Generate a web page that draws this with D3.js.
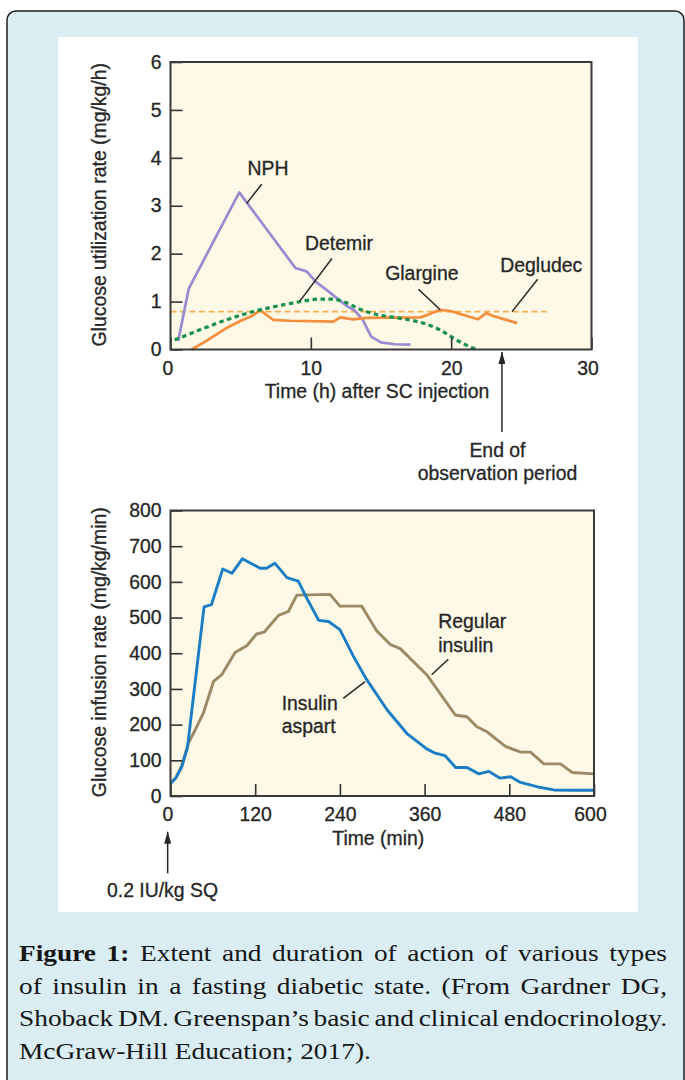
<!DOCTYPE html>
<html>
<head>
<meta charset="utf-8">
<script src="https://cdn.jsdelivr.net/npm/d3@7"></script>
<style>
  body { margin: 0; background: #fff; }
  svg { display: block; }
  text { font-family: "Liberation Sans", Arial, sans-serif; fill: #262626; }
  .chart-text text { stroke: #262626; stroke-width: 0.3px; }
</style>
</head>
<body>
<div id="chart"></div>
<script>
const width = 685;
const height = 1080;
const fontSize = 19.4;

// top panel: basal insulins, glucose utilization rate (mg/kg/h) vs hours
const hourTicks = [0, 10, 20, 30];
const utilTicks = [0, 1, 2, 3, 4, 5, 6];
const nphHours = [0.55, 1.3, 4.9, 8.9, 9.7, 10.4, 11, 12.6, 13.1, 13.7, 14.3, 15, 16, 17.1];
const nphRate = [0.18, 1.27, 3.28, 1.7, 1.63, 1.4, 1.27, 0.9, 0.82, 0.62, 0.27, 0.15, 0.11, 0.1];
const detemirHours = [0.3, 2, 4, 6, 8, 9.5, 10.5, 11.5, 12.5, 13.5, 14.7, 16.4, 18, 19.2, 20.2, 21.1, 21.8];
const detemirRate = [0.2, 0.4, 0.62, 0.8, 0.93, 1.01, 1.05, 1.05, 0.98, 0.84, 0.73, 0.65, 0.55, 0.41, 0.23, 0.09, 0];
const glargineHours = [1.5, 2.5, 3.2, 4, 5, 5.8, 6.4, 7.3, 8.5, 11.6, 12.1, 13, 14, 17.8, 18.3, 19.2, 20, 21.9, 22.5, 23, 24.7];
const glargineRate = [0, 0.17, 0.3, 0.45, 0.6, 0.7, 0.82, 0.62, 0.6, 0.58, 0.67, 0.63, 0.66, 0.67, 0.72, 0.83, 0.8, 0.63, 0.76, 0.7, 0.55];
const degludecHours = [0, 26.8];
const degludecRate = [0.79, 0.79];

// bottom panel: prandial insulins, glucose infusion rate (mg/kg/min) vs minutes
const minuteTicks = [0, 120, 240, 360, 480, 600];
const infusionTicks = [0, 100, 200, 300, 400, 500, 600, 700, 800];
const aspartMinutes = [0, 8, 16, 24, 30, 40, 47.5, 58, 74, 87, 102, 127, 136, 148, 165, 181, 195, 210, 224, 240, 259, 278, 307, 335, 363, 375, 389, 404, 420, 437, 451, 467, 482, 496, 519, 543, 570, 600];
const aspartRate = [35, 52, 82, 135, 236, 404, 530, 536, 636, 624, 665, 638, 638, 652, 612, 602, 547, 492, 489, 466, 392, 326, 241, 175, 132, 120, 113, 80, 80, 62, 69, 50, 54, 38, 26, 17, 16, 16];
const regularMinutes = [0, 8, 16, 25, 35, 46.5, 61, 72.6, 91.5, 108, 122, 132.6, 153, 167, 179, 226, 240, 271, 292, 311, 325.5, 363, 403.5, 420, 434, 448.5, 474.5, 496, 510, 529, 552.5, 569, 600];
const regularRate = [35, 52, 85, 147, 185, 232, 321, 340, 402, 421, 454, 459, 506, 517, 563, 565, 532, 532, 463, 425, 413, 340, 227, 222, 194, 180, 139, 123, 123, 90, 90, 66, 62];

const captionLines = [
  "Figure 1: Extent and duration of action of various types",
  "of insulin in a fasting diabetic state. (From Gardner DG,",
  "Shoback DM. Greenspan\u2019s basic and clinical endocrinology.",
  "McGraw-Hill Education; 2017)."
];

const svg = d3.select("#chart").append("svg")
  .attr("width", width)
  .attr("height", height);

svg.append("defs").append("marker")
  .attr("id", "arrow")
  .attr("viewBox", "0 0 12 7")
  .attr("refX", 12).attr("refY", 3.5)
  .attr("markerWidth", 12).attr("markerHeight", 7)
  .attr("markerUnits", "userSpaceOnUse")
  .attr("orient", "auto")
  .append("path")
  .attr("d", "M0,0L12,3.5L0,7Z")
  .attr("fill", "#262626");

// figure box and white plate
svg.append("rect")
  .attr("x", 7).attr("y", 11)
  .attr("width", 677).attr("height", 1100)
  .attr("rx", 9)
  .attr("fill", "#d9edf3")
  .attr("stroke", "#1e1e1e")
  .attr("stroke-width", 1.5);
svg.append("rect")
  .attr("x", 58).attr("y", 37)
  .attr("width", 580).attr("height", 875)
  .attr("fill", "#fff");

const topX = d3.scaleLinear([0, 30], [170.5, 591.5]);
const topY = d3.scaleLinear([0, 6], [349.5, 62]);
const botX = d3.scaleLinear([0, 600], [170.5, 594]);
const botY = d3.scaleLinear([0, 800], [796, 510.5]);

const panel = (x, y, xTicks, yTicks, xTitle, yTitle, series) => {
  let g = svg.append("g").attr("class", "chart-text");
  let [x0, x1] = x.range();
  let [y0, y1] = y.range();
  g.append("rect")
    .attr("x", x0).attr("y", y1)
    .attr("width", x1 - x0).attr("height", y0 - y1)
    .attr("fill", "#fdf9e6");
  g.selectAll(".series")
    .data(series)
    .join("path")
    .attr("class", "series")
    .attr("fill", "none")
    .attr("stroke", d => d.color)
    .attr("stroke-width", d => d.width)
    .attr("stroke-dasharray", d => d.dash)
    .attr("stroke-linejoin", "round")
    .attr("d", d => d3.line()
      .x(p => x(p[0]))
      .y(p => y(p[1]))
      .curve(d.curve || d3.curveLinear)(d3.zip(d.x, d.y)));

  let xAxis = g.append("g")
    .attr("transform", `translate(0,${y0})`)
    .call(d3.axisBottom(x).tickValues(xTicks).tickFormat(d3.format("d")).tickSize(-12).tickPadding(11.5));
  let yAxis = g.append("g")
    .attr("transform", `translate(${x0},0)`)
    .call(d3.axisLeft(y).tickValues(yTicks).tickFormat(d3.format("d")).tickSize(-12).tickPadding(9));
  [xAxis, yAxis].forEach(a => {
    a.attr("font-family", null).attr("font-size", fontSize);
    a.select(".domain").remove();
    a.selectAll(".tick line").attr("stroke", "#333").attr("stroke-width", 1.6);
    a.selectAll(".tick text").attr("fill", "#262626");
  });
  xAxis.selectAll(".tick text").filter(d => d === xTicks[0]).attr("dx", -3);
  xAxis.selectAll(".tick text").filter(d => d === xTicks[xTicks.length - 1]).attr("dx", -4);

  g.append("rect")
    .attr("x", x0).attr("y", y1)
    .attr("width", x1 - x0).attr("height", y0 - y1)
    .attr("fill", "none")
    .attr("stroke", "#3a3a3a")
    .attr("stroke-width", 2);

  g.append("text")
    .attr("x", (x0 + x1) / 2 - 4).attr("y", y0 + 48.5)
    .attr("text-anchor", "middle")
    .attr("font-size", fontSize)
    .text(xTitle);
  g.append("text")
    .attr("transform", `translate(106,${(y0 + y1) / 2 - 1}) rotate(-90)`)
    .attr("text-anchor", "middle")
    .attr("font-size", fontSize)
    .text(yTitle);
  return g;
};

const notes = (g, x, y, labels, leaders, arrows) => {
  g.selectAll(".note")
    .data(labels)
    .join("text")
    .attr("class", "note")
    .attr("x", d => x(d.at[0]))
    .attr("y", d => y(d.at[1]))
    .attr("text-anchor", d => d.anchor || "start")
    .attr("font-size", fontSize)
    .selectAll("tspan")
    .data(d => d.lines.map((t, i) => ({ t, i, x: x(d.at[0]) })))
    .join("tspan")
    .attr("x", d => d.x)
    .attr("dy", d => d.i ? 23.5 : 0)
    .text(d => d.t);
  g.selectAll(".leader")
    .data(leaders)
    .join("line")
    .attr("class", "leader")
    .attr("x1", d => x(d[0][0])).attr("y1", d => y(d[0][1]))
    .attr("x2", d => x(d[1][0])).attr("y2", d => y(d[1][1]))
    .attr("stroke", "#262626")
    .attr("stroke-width", 1.5);
  g.selectAll(".arrow")
    .data(arrows)
    .join("line")
    .attr("class", "arrow")
    .attr("x1", d => x(d[0][0])).attr("y1", d => y(d[0][1]))
    .attr("x2", d => x(d[1][0])).attr("y2", d => y(d[1][1]))
    .attr("stroke", "#262626")
    .attr("stroke-width", 1.5)
    .attr("marker-end", "url(#arrow)");
};

const topPanel = panel(topX, topY, hourTicks, utilTicks,
  "Time (h) after SC injection", "Glucose utilization rate (mg/kg/h)", [
    { x: degludecHours, y: degludecRate, color: "#f7ae55", width: 1.6, dash: "6 3.5" },
    { x: nphHours, y: nphRate, color: "#978ccf", width: 2.7 },
    { x: glargineHours, y: glargineRate, color: "#f58d3f", width: 2.7 },
    { x: detemirHours, y: detemirRate, color: "#17914b", width: 3.2, dash: "4.5 3.5", curve: d3.curveMonotoneX }
  ]);
notes(topPanel, topX, topY, [
  { lines: ["NPH"], at: [6.95, 3.64], anchor: "middle" },
  { lines: ["Detemir"], at: [9.59, 2.08] },
  { lines: ["Glargine"], at: [15.3, 1.45] },
  { lines: ["Degludec"], at: [23.5, 1.62] },
  { lines: ["End of", "observation period"], at: [23.3, -2.24], anchor: "middle" }
], [
  [[6.5, 3.45], [5.43, 3.05]],
  [[11.5, 1.9], [9.19, 1.0]],
  [[17.67, 1.256], [19.22, 0.83]],
  [[26.16, 1.465], [24.34, 0.79]]
], [
  [[23.62, -1.72], [23.62, -0.05]]
]);

const bottomPanel = panel(botX, botY, minuteTicks, infusionTicks,
  "Time (min)", "Glucose infusion rate (mg/kg/min)", [
    { x: regularMinutes, y: regularRate, color: "#9c8966", width: 2.9 },
    { x: aspartMinutes, y: aspartRate, color: "#1b7dc3", width: 2.9 }
  ]);
notes(bottomPanel, botX, botY, [
  { lines: ["Regular", "insulin"], at: [379.4, 470.7] },
  { lines: ["Insulin", "aspart"], at: [157.5, 241] },
  { lines: ["0.2 IU/kg SQ"], at: [-90, -283] }
], [
  [[393.6, 383], [370, 339.6]],
  [[244.8, 273.8], [275.6, 320.3]]
], [
  [[-4, -216.6], [-4, -100]]
]);

// caption: serif, widened to the source's proportions, justified line by line
const capLeft = 19;
const capRight = 667;
const capSize = 23.5;
const capFont = "'Liberation Serif', 'Times New Roman', serif";
const cap = svg.append("g");
const probe = cap.append("text")
  .style("font-family", capFont)
  .attr("font-size", capSize)
  .text(captionLines[3]);
const capStretch = 352 / probe.node().getComputedTextLength();
probe.remove();

captionLines.forEach((line, i) => {
  let t = cap.append("text")
    .attr("transform", `translate(${capLeft},${961 + i * 32.5}) scale(${capStretch},1)`)
    .attr("font-size", capSize)
    .style("font-family", capFont)
    .style("fill", "#161616");
  if (line.startsWith("Figure 1:")) {
    t.append("tspan").attr("font-weight", "bold").text("Figure 1:");
    t.append("tspan").text(line.slice(9));
  } else {
    t.text(line);
  }
  if (i < captionLines.length - 1) {
    let natural = t.node().getComputedTextLength();
    let spaces = line.split(" ").length - 1;
    t.style("word-spacing", `${((capRight - capLeft) / capStretch - natural) / spaces}px`);
  }
});
</script>
</body>
</html>
